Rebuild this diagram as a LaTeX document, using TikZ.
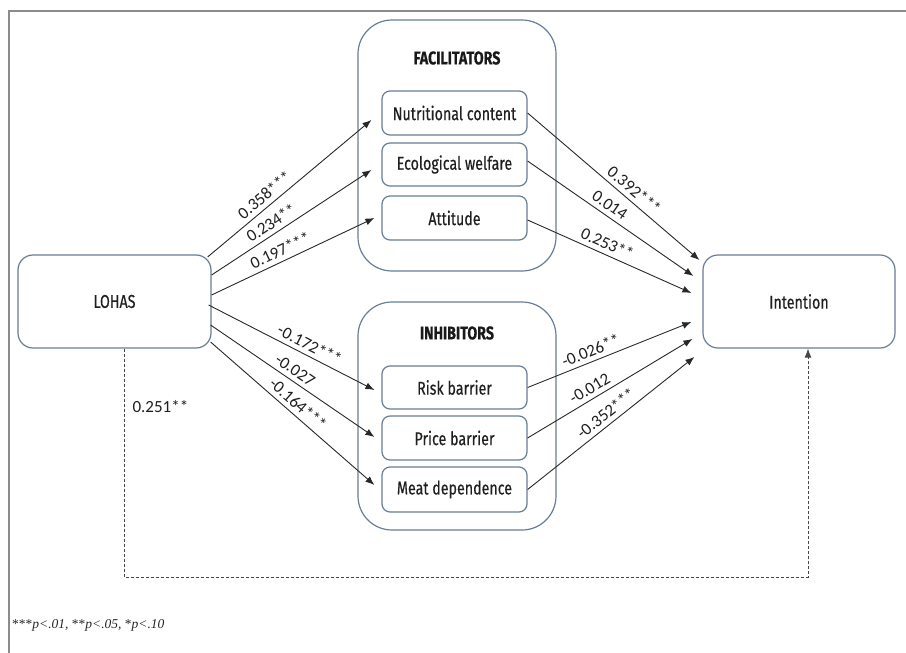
\documentclass[tikz,border=0pt]{standalone}
\usepackage{fontspec}
\setmainfont{Liberation Serif}
\newfontfamily\boxfont[FakeStretch=0.77,FakeBold=0.35]{Fira Sans}
\newfontfamily\numfont{Carlito}
\usetikzlibrary{arrows.meta,calc}
\definecolor{boxcol}{RGB}{105,125,150}
\definecolor{linecol}{RGB}{40,40,40}
\definecolor{framecol}{RGB}{140,140,140}
\tikzset{
  mainbox/.style={draw=boxcol, line width=1.2pt, rounded corners=15pt, fill=white,
    minimum width=193pt, minimum height=93pt, font=\boxfont\fontsize{18.5}{21}\selectfont, text=black!88, inner sep=0pt},
  groupbox/.style={draw=boxcol, line width=1.2pt, rounded corners=34pt, minimum width=198pt, inner sep=0pt},
  itembox/.style={draw=boxcol, line width=1.2pt, rounded corners=8pt, fill=white,
    minimum width=145pt, font=\boxfont\fontsize{18.5}{21}\selectfont, text=black!88, inner sep=0pt},
  grouptitle/.style={font=\boxfont\bfseries\fontsize{18.5}{21}\selectfont, text=black!90},
  path/.style={draw=linecol, line width=0.9pt, -{Latex[length=9pt,width=7pt]}},
  coef/.style={font=\numfont\fontsize{17}{19}\selectfont, text=black!88, sloped, above=2.5pt, inner sep=2pt},
}
\begin{document}
\begin{tikzpicture}[x=1pt,y=-1pt]
\useasboundingbox (0,0) rectangle (906,653);
\fill[white] (0,0) rectangle (906,653);
% frame
\draw[framecol, line width=1.5pt] (9,653) -- (9,11) -- (906,11);

% group boxes
\node[groupbox, minimum height=251pt] (fac) at (457,145.5) {};
\node[groupbox, minimum height=228pt] (inh) at (457,416) {};
\node[grouptitle] (factitle) at (457,58) {FACILITATORS};
\node[grouptitle] (inhtitle) at (457,333) {INHIBITORS};

% items
\node[itembox, minimum height=44pt] (nut) at (454.5,113) {Nutritional content};
\node[itembox, minimum height=43pt] (eco) at (454.5,164.5) {Ecological welfare};
\node[itembox, minimum height=44pt] (att) at (454.5,218) {Attitude};
\node[itembox, minimum height=43pt] (risk) at (454.5,387.5) {Risk barrier};
\node[itembox, minimum height=44pt] (price) at (454.5,438) {Price barrier};
\node[itembox, minimum height=45pt] (meat) at (454.5,489.5) {Meat dependence};

% main boxes
\node[mainbox] (lohas) at (114.5,301.5) {LOHAS};
\node[mainbox, minimum width=192pt] (int) at (799,301.5) {Intention};

% LOHAS -> facilitators
\draw[path] ([xshift=-4pt,yshift=44.5pt]lohas.east) -- ([xshift=-10pt,yshift=-7pt]nut.west)
  node[coef, pos=0.39] {0.358***};
\draw[path] ([xshift=0pt,yshift=26.5pt]lohas.east) -- ([xshift=-10pt,yshift=-5.5pt]eco.west)
  node[coef, pos=0.41] {0.234**};
\draw[path] ([xshift=0pt,yshift=6.5pt]lohas.east) -- ([xshift=-7pt,yshift=0pt]att.west)
  node[coef, pos=0.45] {0.197***};
% LOHAS -> inhibitors
\draw[path] ([xshift=-3pt,yshift=-3.5pt]lohas.east) -- ([xshift=-7pt,yshift=-2.5pt]risk.west)
  node[coef, pos=0.58] {-0.172***};
\draw[path] ([xshift=-1pt,yshift=-23.5pt]lohas.east) -- ([xshift=-7pt,yshift=1pt]price.west)
  node[coef, pos=0.48] {-0.027};
\draw[path] ([xshift=-1pt,yshift=-40.5pt]lohas.east) -- ([xshift=-7pt,yshift=4.5pt]meat.west)
  node[coef, pos=0.49] {-0.164***};

% facilitators -> intention
\draw[path] (nut.east) -- ([xshift=-3pt,yshift=41.5pt]int.west)
  node[coef, pos=0.58] {0.392***};
\draw[path] ([yshift=3.5pt]eco.east) -- ([xshift=-9pt,yshift=25.5pt]int.west)
  node[coef, pos=0.46] {0.014};
\draw[path] ([yshift=-2pt]att.east) -- ([xshift=-11pt,yshift=8.5pt]int.west)
  node[coef, pos=0.46] {0.253**};
% inhibitors -> intention
\draw[path] (risk.east) -- ([xshift=-11pt,yshift=-20.5pt]int.west)
  node[coef, pos=0.41] {-0.026**};
\draw[path] (price.east) -- ([xshift=-10pt,yshift=-37.5pt]int.west)
  node[coef, pos=0.41] {-0.012};
\draw[path] (meat.east) -- ([xshift=-8pt,yshift=-55.5pt]int.west)
  node[coef, pos=0.51] {-0.352***};

% direct effect (dashed)
\coordinate (d1) at (124,577);
\coordinate (d2) at (808,577);
\draw[draw=linecol!85, line width=0.9pt, dash pattern=on 3pt off 2pt, -{Latex[length=9pt,width=7pt]}]
  (lohas.south -| d1) -- (d1) -- (d2) -- (int.south -| d2);
\node[font=\numfont\fontsize{17}{19}\selectfont, text=black!88, anchor=west] (dir) at (129,407) {0.251**};

% footnote
\node[anchor=west, font=\fontsize{13.5}{15}\selectfont, text=black!85, inner sep=0pt] (note) at (12,625)
  {***\textit{p<.01,} **\textit{p<.05,} *\textit{p<.10}};
\end{tikzpicture}
\end{document}
